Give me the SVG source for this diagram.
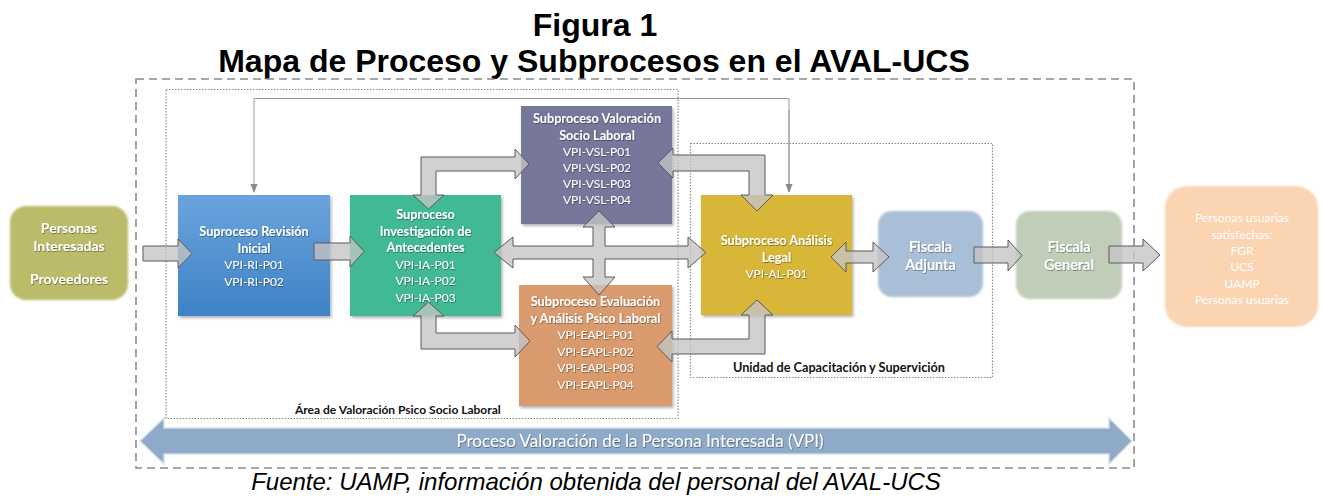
<svg xmlns="http://www.w3.org/2000/svg" width="1322" height="498" viewBox="0 0 1322 498">
<defs>
<filter id="sh" x="-10%" y="-10%" width="125%" height="125%"><feDropShadow dx="1.5" dy="2" stdDeviation="1.5" flood-color="#000" flood-opacity="0.3"/></filter>
<filter id="soft" x="-10%" y="-10%" width="120%" height="120%"><feGaussianBlur stdDeviation="1.2"/></filter>
<filter id="ts" x="-5%" y="-20%" width="110%" height="150%"><feDropShadow dx="0.6" dy="0.8" stdDeviation="0.6" flood-color="#000" flood-opacity="0.45"/></filter>
<linearGradient id="gBlue" x1="0" y1="0" x2="0" y2="1"><stop offset="0" stop-color="#6aa4dc"/><stop offset="1" stop-color="#3e82c6"/></linearGradient>
<marker id="ah" viewBox="0 0 10 10" refX="9" refY="5" markerWidth="9" markerHeight="9" orient="auto"><path d="M0,1 L10,5 L0,9 Z" fill="#8a8a8a"/></marker>
</defs>
<style>
.title{font-family:"Liberation Sans",Arial,sans-serif;font-weight:bold;fill:#000;text-anchor:middle}
.cap{font-family:"Liberation Sans",Arial,sans-serif;font-style:italic;font-size:24px;fill:#000;text-anchor:middle}
.nt{font-family:Lato,"Open Sans",sans-serif;font-size:12px;fill:#fff;text-anchor:middle;filter:url(#ts)}
.b{font-weight:bold;font-size:12.7px}
.lab{font-family:Lato,"Open Sans",sans-serif;font-size:12.7px;font-weight:bold;fill:#111}
.blk{fill:#c4c4c4;fill-opacity:0.78;stroke:#5a5a5a;stroke-width:1}
.thin{fill:none;stroke:#9a9a9a;stroke-width:1}
.dash{fill:none;stroke:#8c8c8c;stroke-width:1.6;stroke-dasharray:8,5}
.dot{fill:none;stroke:#8c8c8c;stroke-width:1.2;stroke-dasharray:1.5,1.5}
</style>
<rect width="1322" height="498" fill="#fff"/>
<text class="title" x="595" y="36" font-size="32">Figura 1</text>
<text class="title" x="594" y="72" font-size="32">Mapa de Proceso y Subprocesos en el AVAL-UCS</text>

<g id="frame-aval"><rect class="dash" x="136" y="79" width="998" height="389"/></g>
<g id="area-valoracion"><rect class="dot" x="166" y="89.5" width="512" height="329"/>
<text class="lab" x="295" y="414" style="font-size:12px">Área de Valoración Psico Socio Laboral</text></g>
<g id="unidad-capacitacion"><rect class="dot" x="690.5" y="143.5" width="302" height="234"/>
<text class="lab" x="733" y="372">Unidad de Capacitación y Supervición</text></g>

<g id="vpi-process">
<path d="M140,441 L164,418 V428 H1109 V418 L1132,441 L1109,464 V454 H164 V464 Z" fill="#8eaac8" stroke="#d3e0ea" stroke-width="1.5"/>
<text x="640" y="447" font-family="Lato,'Open Sans',sans-serif" font-size="17" fill="#fff" text-anchor="middle" filter="url(#ts)">Proceso Valoración de la Persona Interesada (VPI)</text>
</g>

<g id="personas-interesadas">
<rect x="10" y="206" width="118" height="94" rx="16" fill="#bcbb6b" filter="url(#soft)"/>
<text class="nt b" x="69" y="233" style="font-size:14px">Personas</text>
<text class="nt b" x="69" y="251" style="font-size:14px">Interesadas</text>
<text class="nt b" x="69" y="284" style="font-size:14px">Proveedores</text>
</g>

<g id="revision-inicial">
<rect x="178" y="195" width="152" height="121" fill="url(#gBlue)" filter="url(#sh)"/>
<text class="nt b" x="254" y="236">Suproceso Revisión</text>
<text class="nt b" x="254" y="252.5">Inicial</text>
<text class="nt" x="254" y="269">VPI-RI-P01</text>
<text class="nt" x="254" y="285.5">VPI-RI-P02</text>
</g>

<g id="investigacion-antecedentes">
<rect x="350" y="195" width="151" height="121" fill="#40b994" filter="url(#sh)"/>
<text class="nt b" x="425.5" y="219">Suproceso</text>
<text class="nt b" x="425.5" y="235.5">Investigación de</text>
<text class="nt b" x="425.5" y="252">Antecedentes</text>
<text class="nt" x="425.5" y="268.5">VPI-IA-P01</text>
<text class="nt" x="425.5" y="285">VPI-IA-P02</text>
<text class="nt" x="425.5" y="301.5">VPI-IA-P03</text>
</g>

<g id="valoracion-socio-laboral">
<rect x="521" y="106" width="151" height="118" fill="#77779c" filter="url(#sh)"/>
<text class="nt b" x="597" y="123">Subproceso Valoración</text>
<text class="nt b" x="597" y="139.5">Socio Laboral</text>
<text class="nt" x="597" y="156">VPI-VSL-P01</text>
<text class="nt" x="597" y="172">VPI-VSL-P02</text>
<text class="nt" x="597" y="188">VPI-VSL-P03</text>
<text class="nt" x="597" y="204">VPI-VSL-P04</text>
</g>

<g id="evaluacion-psico-laboral">
<rect x="519" y="285" width="153" height="121" fill="#d99a6e" filter="url(#sh)"/>
<text class="nt b" x="595.5" y="306">Subproceso Evaluación</text>
<text class="nt b" x="595.5" y="322.5">y Análisis Psico Laboral</text>
<text class="nt" x="595.5" y="339">VPI-EAPL-P01</text>
<text class="nt" x="595.5" y="355.5">VPI-EAPL-P02</text>
<text class="nt" x="595.5" y="372">VPI-EAPL-P03</text>
<text class="nt" x="595.5" y="388.5">VPI-EAPL-P04</text>
</g>

<g id="analisis-legal">
<rect x="701" y="195" width="151" height="120" fill="#d8b637" filter="url(#sh)"/>
<text class="nt b" x="776.5" y="245">Subproceso Análisis</text>
<text class="nt b" x="776.5" y="261.5">Legal</text>
<text class="nt" x="776.5" y="278">VPI-AL-P01</text>
</g>

<g id="fiscala-adjunta">
<rect x="878" y="211" width="105" height="86" rx="14" fill="#a9bfd7" filter="url(#soft)"/>
<text class="nt b" x="930.5" y="252" style="font-size:14.4px">Fiscala</text>
<text class="nt b" x="930.5" y="270" style="font-size:14.4px">Adjunta</text>
</g>

<g id="fiscala-general">
<rect x="1016" y="211" width="106" height="88" rx="14" fill="#bfcdb9" filter="url(#soft)"/>
<text class="nt b" x="1069" y="252" style="font-size:14.4px">Fiscala</text>
<text class="nt b" x="1069" y="270" style="font-size:14.4px">General</text>
</g>

<g id="personas-usuarias">
<rect x="1165" y="186" width="153" height="141" rx="22" fill="#fbd4b2" filter="url(#soft)"/>
<text class="nt" x="1242" y="222" style="filter:none;font-size:12.1px">Personas usuarias</text>
<text class="nt" x="1242" y="238.5" style="filter:none;font-size:12.1px">satisfechas:</text>
<text class="nt" x="1242" y="255" style="filter:none;font-size:12.1px">FGR</text>
<text class="nt" x="1242" y="271" style="filter:none;font-size:12.1px">UCS</text>
<text class="nt" x="1242" y="287.5" style="filter:none;font-size:12.1px">UAMP</text>
<text class="nt" x="1242" y="304" style="filter:none;font-size:12.1px">Personas usuarias</text>
</g>

<g id="connectors">
<path class="thin" d="M789,192 V98.5 H254 V192" marker-end="url(#ah)"/>
<path class="thin" d="M789,110 V192" marker-end="url(#ah)"/>
<path class="blk" d="M143,246 H178 V239 L192,253.5 L178,268 V261 H143 Z"/>
<path class="blk" d="M314,243 H350 V236 L364,251.5 L350,267 V260 H314 Z"/>
<path class="blk" d="M494,252.5 L513,237 V246 H593 V227 H583 L599,211 L615,227 H605 V246 H688 V237 L706,252.5 L688,268 V259 H605 V277 H615 L599,295 L583,277 H593 V259 H513 V268 Z"/>
<path class="blk" d="M421,195 V157 H515 V149 L529,164 L515,179 V171 H436 V195 H444 L428.5,209 L413,195 Z"/>
<path class="blk" d="M413,316 L428.5,302 L444,316 H436 V333 H515 V325 L530,341 L515,357 V349 H421 V316 Z"/>
<path class="blk" d="M658,163 L673,148 V155 H765 V195 H773 L757,211 L741,195 H749 V171 H673 V178 Z"/>
<path class="blk" d="M741,315 L757,300 L773,315 H765 V354 H672 V362 L657,346.5 L672,331 V339 H749 V315 Z"/>
<path class="blk" d="M831,257 L846,242 V251 H873 V242 L889,257 L873,272 V263 H846 V272 Z"/>
<path class="blk" d="M974,247 H1008 V240 L1022,255.5 L1008,271 V263 H974 Z"/>
<path class="blk" d="M1109,246 H1143 V239 L1160,255 L1143,271 V263 H1109 Z"/>
</g>

<text class="cap" x="596" y="490">Fuente: UAMP, información obtenida del personal del AVAL-UCS</text>
</svg>
